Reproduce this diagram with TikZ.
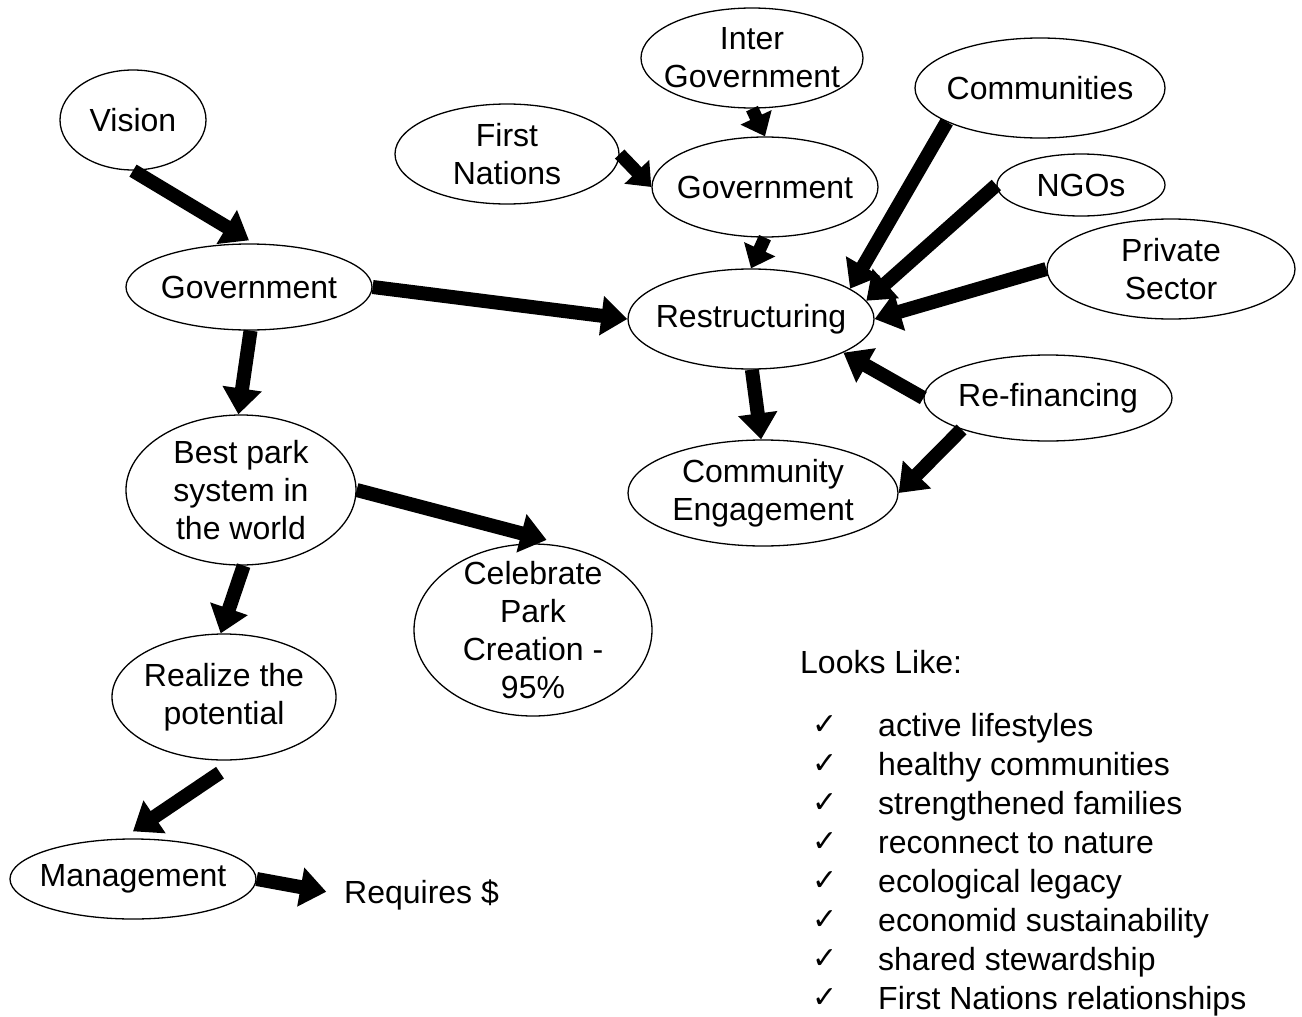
\documentclass[tikz,border=0pt]{standalone}
\usepackage{fontspec}
\setmainfont{Liberation Sans}
\newfontfamily\symfont{DejaVu Sans}
\usetikzlibrary{shapes.geometric,arrows.meta}

\tikzset{
  bigfont/.style={font=\fontsize{32}{38}\selectfont},
  % ellipse of fixed size; its text is set as a centred label
  bubble/.style n args={3}{ellipse, draw, line width=1.3pt, inner sep=0pt,
    minimum width=#1, minimum height=#2,
    label={[bigfont, align=center, inner sep=0pt]center:#3}},
  listtext/.style={bigfont, inner sep=0pt, anchor=base west},
  flow/.style={line width=14pt, -{Triangle[length=26pt,width=38pt]}},
  shortflow/.style={line width=13pt, -{Triangle[length=21pt,width=33pt]}}
}

\begin{document}
\begin{tikzpicture}[x=1pt,y=-1pt]
\useasboundingbox (0,0) rectangle (1302,1017);

% left column
\node[bubble={146pt}{100pt}{Vision}] (vision) at (133,120) {};
\node[bubble={246pt}{86pt}{Government}] (govL) at (249,287) {};
\node[bubble={230pt}{150pt}{Best park\\system in\\the world}] (best) at (241,490) {};
\node[bubble={238pt}{172pt}{Celebrate\\Park\\Creation -\\95\%}] (celeb) at (533,630) {};
\node[bubble={224pt}{126pt}{Realize the\\potential}] (real) at (224,697) {};
\node[bubble={246pt}{80pt}{Management}] (mgmt) at (133,879) {};
\node[bigfont, inner sep=0pt, anchor=west] (req) at (344,895) {Requires \$};

% right cluster
\node[bubble={222pt}{100pt}{Inter\\Government}] (inter) at (752,58) {};
\node[bubble={224pt}{100pt}{First\\Nations}] (first) at (507,154) {};
\node[bubble={226pt}{100pt}{Government}] (govR) at (765,187) {};
\node[bubble={250pt}{100pt}{Communities}] (comm) at (1040,88) {};
\node[bubble={168pt}{62pt}{NGOs}] (ngo) at (1081,185) {};
\node[bubble={248pt}{100pt}{Private\\Sector}] (priv) at (1171,269) {};
\node[bubble={246pt}{100pt}{Restructuring}] (restr) at (751,319) {};
\node[bubble={248pt}{86pt}{Re-financing}] (refin) at (1048,398) {};
\node[bubble={270pt}{106pt}{Community\\Engagement}] (engage) at (763,493) {};

% connectors
\draw[flow] (vision.south) -- ([yshift=3pt]govL.north);
\draw[flow] (govL.east) -- (restr.west);
\draw[flow] (govL.-88) -- (best.92);
\draw[flow] (best.east) -- ([yshift=4pt]celeb.81);
\draw[flow] (best.-88) -- (real.93);
\draw[flow] ([shift={(-4pt,-12pt)}]real.south) -- ([yshift=7pt]mgmt.north);
\draw[flow, shorten >=18pt] (mgmt.east) -- (req.west);

\draw[shortflow] (first.east) -- (govR.west);
\draw[shortflow] (inter.south) -- (govR.north);
\draw[shortflow] (govR.south) -- (restr.north);
\draw[flow] (comm.200) -- (restr.17);
\draw[flow] (ngo.west) -- (restr.9);
\draw[flow] (priv.west) -- (restr.east);
\draw[flow] (refin.west) -- (restr.-20);
\draw[flow] (restr.-89) -- (engage.92);
\draw[flow] (refin.-160) -- (engage.east);

% list
\node[listtext] (looks) at (800,673) {Looks Like:};
\foreach \t [count=\i from 0] in {active lifestyles, healthy communities,
  strengthened families, reconnect to nature, ecological legacy,
  economid sustainability, shared stewardship, First Nations relationships} {
  \node[listtext] (item\i) at (878,736+39*\i) {\t};
  \node[inner sep=0pt, anchor=base west, font=\symfont\fontsize{30}{36}\selectfont] (tick\i) at (812,734+39*\i) {✓};
}
\end{tikzpicture}
\end{document}
